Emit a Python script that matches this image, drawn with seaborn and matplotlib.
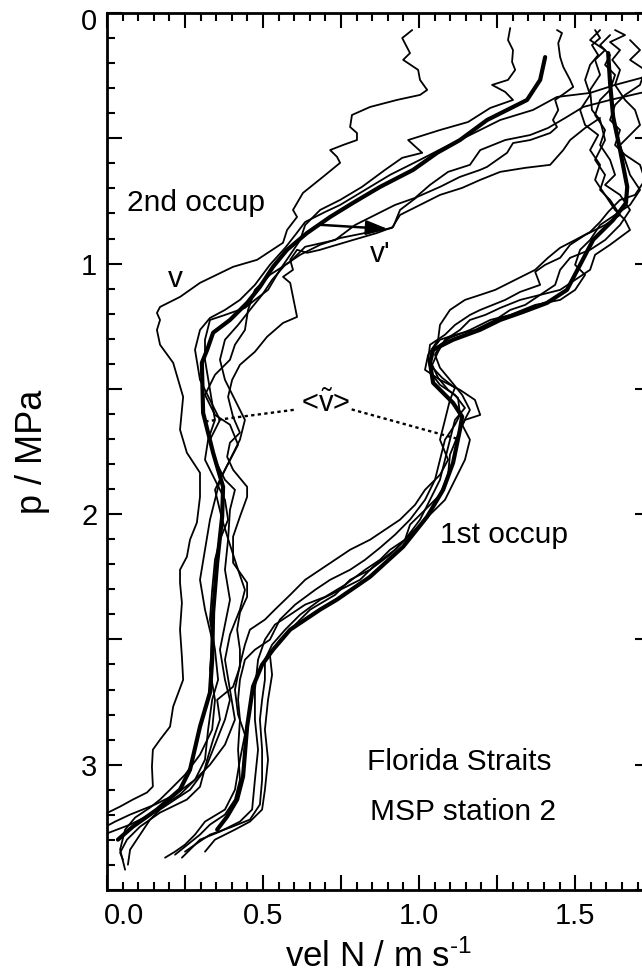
import numpy as np
import pandas as pd
import matplotlib
matplotlib.use("Agg")
import matplotlib.pyplot as plt
import matplotlib.transforms as mtransforms
from matplotlib.ticker import MultipleLocator, FuncFormatter
import seaborn as sns

# ---------------------------------------------------------------------------
# Mean northward velocity profiles (thick lines), v in m/s, p in MPa
# ---------------------------------------------------------------------------
mean2_v = [1.404, 1.388, 1.346, 1.282, 1.218, 1.131, 1.058, 0.981, 0.875, 0.788,
           0.715, 0.641, 0.577, 0.532, 0.490, 0.449, 0.394, 0.340, 0.321, 0.304,
           0.308, 0.340, 0.372, 0.369, 0.353, 0.340, 0.337, 0.330, 0.298, 0.266,
           0.234, 0.160, 0.083, 0.035]
mean2_p = [0.176, 0.267, 0.347, 0.387, 0.427, 0.507, 0.558, 0.626, 0.694, 0.758,
           0.814, 0.878, 0.945, 1.013, 1.093, 1.157, 1.225, 1.276, 1.344, 1.396,
           1.596, 1.755, 1.891, 2.010, 2.194, 2.393, 2.581, 2.712, 2.848, 3.020,
           3.099, 3.179, 3.247, 3.299]

mean1_v = [1.606, 1.612, 1.622, 1.644, 1.667, 1.663, 1.622, 1.558, 1.516, 1.474,
           1.410, 1.333, 1.260, 1.196, 1.109, 1.045, 1.035, 1.045, 1.109, 1.138,
           1.131, 1.109, 1.077, 1.026, 0.949, 0.843, 0.737, 0.683, 0.587, 0.532,
           0.497, 0.468, 0.449, 0.436, 0.417, 0.385, 0.353]
mean1_p = [0.160, 0.279, 0.415, 0.546, 0.694, 0.758, 0.826, 0.905, 1.005, 1.105,
           1.157, 1.193, 1.225, 1.264, 1.304, 1.344, 1.396, 1.476, 1.556, 1.611,
           1.663, 1.795, 1.903, 2.010, 2.130, 2.250, 2.341, 2.381, 2.461, 2.541,
           2.601, 2.688, 2.848, 3.047, 3.139, 3.207, 3.259]

# ---------------------------------------------------------------------------
# Individual casts, 2nd occupation
# ---------------------------------------------------------------------------
occ2_a_v = [0.978, 0.946, 0.971, 0.949, 0.997, 1.003, 1.026, 1.003, 0.929, 0.843,
            0.785, 0.779, 0.801, 0.801, 0.756, 0.715, 0.737, 0.747, 0.692, 0.628,
            0.596, 0.609, 0.577, 0.564, 0.481, 0.404, 0.298, 0.234, 0.170, 0.160,
            0.170, 0.160, 0.170, 0.212, 0.244, 0.234, 0.256, 0.298, 0.298, 0.288,
            0.266, 0.256, 0.234, 0.234, 0.240, 0.234, 0.240, 0.244, 0.212, 0.202,
            0.170, 0.147, 0.144, 0.147, 0.128, 0.083, 0.042, -0.010]
occ2_a_p = [0.068, 0.100, 0.160, 0.187, 0.227, 0.267, 0.307, 0.327, 0.347, 0.375,
            0.407, 0.455, 0.479, 0.507, 0.527, 0.547, 0.574, 0.598, 0.654, 0.718,
            0.786, 0.814, 0.866, 0.917, 0.985, 1.013, 1.077, 1.133, 1.173, 1.197,
            1.225, 1.265, 1.324, 1.396, 1.532, 1.663, 1.755, 1.835, 1.931, 2.034,
            2.102, 2.170, 2.222, 2.274, 2.354, 2.461, 2.569, 2.661, 2.768, 2.848,
            2.900, 2.940, 3.008, 3.087, 3.111, 3.139, 3.167, 3.199]

occ2_b_v = [1.292, 1.285, 1.301, 1.298, 1.308, 1.285, 1.234, 1.276, 1.301, 1.228,
            1.157, 1.067, 0.965, 1.010, 0.946, 0.891, 0.817, 0.747, 0.683, 0.635,
            0.619, 0.587, 0.554, 0.516, 0.474, 0.442, 0.378, 0.330, 0.314, 0.314,
            0.330, 0.346, 0.324, 0.314, 0.346, 0.378, 0.388, 0.362, 0.346, 0.337,
            0.330, 0.346, 0.356, 0.337, 0.324, 0.314, 0.282, 0.218, 0.154, 0.074,
            0.026, -0.010]
occ2_b_p = [0.060, 0.108, 0.148, 0.195, 0.227, 0.267, 0.287, 0.315, 0.347, 0.379,
            0.435, 0.467, 0.507, 0.558, 0.578, 0.626, 0.694, 0.746, 0.786, 0.846,
            0.906, 0.965, 1.025, 1.105, 1.145, 1.177, 1.205, 1.225, 1.304, 1.384,
            1.504, 1.624, 1.703, 1.783, 1.863, 1.943, 2.022, 2.102, 2.182, 2.302,
            2.421, 2.541, 2.661, 2.741, 2.860, 2.980, 3.060, 3.119, 3.159, 3.199,
            3.227, 3.251]

occ2_c_v = [1.442, 1.458, 1.446, 1.452, 1.462, 1.484, 1.494, 1.468, 1.436, 1.446,
            1.429, 1.442, 1.420, 1.356, 1.301, 1.282, 1.250, 1.218, 1.196, 1.131,
            1.067, 0.994, 0.939, 0.917, 0.865, 0.788, 0.715, 0.683, 0.641, 0.609,
            0.587, 0.596, 0.564, 0.587, 0.596, 0.609, 0.564, 0.513, 0.474, 0.426,
            0.401, 0.388, 0.404, 0.426, 0.394, 0.385, 0.404, 0.449, 0.449, 0.426,
            0.404, 0.404, 0.449, 0.449, 0.426, 0.417, 0.426, 0.426, 0.404, 0.353,
            0.362, 0.340, 0.321, 0.298, 0.256, 0.170, 0.106, 0.064, 0.042, 0.051]
occ2_c_p = [0.068, 0.080, 0.120, 0.176, 0.215, 0.267, 0.295, 0.319, 0.347, 0.387,
            0.427, 0.455, 0.479, 0.507, 0.519, 0.558, 0.586, 0.614, 0.626, 0.654,
            0.694, 0.734, 0.786, 0.854, 0.878, 0.906, 0.933, 0.945, 0.957, 0.945,
            0.985, 1.025, 1.053, 1.077, 1.133, 1.213, 1.237, 1.292, 1.352, 1.404,
            1.464, 1.532, 1.612, 1.675, 1.715, 1.771, 1.823, 1.891, 1.931, 2.010,
            2.090, 2.194, 2.274, 2.330, 2.393, 2.461, 2.541, 2.609, 2.689, 2.741,
            2.820, 2.900, 2.980, 3.088, 3.139, 3.191, 3.247, 3.299, 3.351, 3.379]

occ2_d_v = [1.724, 1.628, 1.548, 1.442, 1.365, 1.260, 1.163, 1.083, 1.003, 0.907,
            0.827, 0.747, 0.699, 0.635, 0.603, 0.571, 0.522, 0.474, 0.426, 0.378,
            0.330, 0.298, 0.282, 0.298, 0.330, 0.362, 0.330, 0.346, 0.378, 0.410,
            0.394, 0.388, 0.378, 0.394, 0.378, 0.362, 0.378, 0.394, 0.378, 0.346,
            0.314, 0.266, 0.218, 0.170, 0.138, 0.106, 0.074, 0.067]
occ2_d_p = [0.255, 0.287, 0.319, 0.335, 0.387, 0.427, 0.487, 0.535, 0.586, 0.646,
            0.706, 0.766, 0.794, 0.834, 0.886, 0.937, 1.005, 1.085, 1.145, 1.185,
            1.217, 1.265, 1.344, 1.464, 1.544, 1.624, 1.703, 1.783, 1.863, 1.903,
            1.983, 2.102, 2.222, 2.342, 2.441, 2.541, 2.661, 2.741, 2.820, 2.920,
            3.020, 3.100, 3.139, 3.179, 3.219, 3.279, 3.339, 3.399]

occ2_e_v = [1.724, 1.612, 1.526, 1.468, 1.413, 1.356, 1.276, 1.196, 1.163, 1.093,
            1.035, 0.987, 0.923, 0.859, 0.795, 0.731, 0.635, 0.587, 0.522, 0.474,
            0.452, 0.442, 0.410, 0.394, 0.346, 0.314, 0.346, 0.394, 0.420, 0.378,
            0.346, 0.369, 0.394, 0.420, 0.442, 0.426, 0.394, 0.378, 0.394, 0.410,
            0.378, 0.330, 0.282, 0.234, 0.186, 0.138, 0.074, -0.010]
occ2_e_p = [0.315, 0.347, 0.375, 0.419, 0.459, 0.487, 0.507, 0.547, 0.606, 0.634,
            0.686, 0.738, 0.766, 0.806, 0.846, 0.906, 0.933, 0.993, 1.045, 1.105,
            1.185, 1.265, 1.324, 1.384, 1.444, 1.524, 1.604, 1.643, 1.723, 1.823,
            1.903, 2.022, 2.122, 2.222, 2.302, 2.381, 2.481, 2.581, 2.701, 2.820,
            2.920, 3.000, 3.060, 3.119, 3.159, 3.199, 3.239, 3.279]

occ2_f_v = [1.580, 1.532, 1.484, 1.462, 1.420, 1.340, 1.260, 1.196, 1.138, 1.067,
            1.003, 0.939, 0.913, 0.827, 0.747, 0.683, 0.619, 0.571, 0.529, 0.497,
            0.458, 0.420, 0.378, 0.362, 0.378, 0.410, 0.442, 0.426, 0.394, 0.362,
            0.346, 0.330, 0.314, 0.298, 0.314, 0.337, 0.330, 0.346, 0.337, 0.298,
            0.250, 0.202, 0.170, 0.138, 0.090, 0.058, 0.042, 0.058]
occ2_f_p = [0.419, 0.459, 0.507, 0.547, 0.606, 0.618, 0.634, 0.666, 0.698, 0.726,
            0.766, 0.806, 0.858, 0.878, 0.898, 0.925, 0.965, 1.005, 1.065, 1.125,
            1.185, 1.245, 1.304, 1.384, 1.464, 1.544, 1.624, 1.703, 1.783, 1.863,
            1.943, 2.022, 2.142, 2.262, 2.381, 2.501, 2.621, 2.741, 2.860, 2.960,
            3.040, 3.100, 3.139, 3.171, 3.211, 3.259, 3.339, 3.419]

# ---------------------------------------------------------------------------
# Individual casts, 1st occupation
# ---------------------------------------------------------------------------
occ1_a_v = [1.580, 1.548, 1.596, 1.564, 1.580, 1.548, 1.554, 1.580, 1.596, 1.564,
            1.596, 1.580, 1.612, 1.644, 1.596, 1.532, 1.484, 1.452, 1.404, 1.372,
            1.388, 1.324, 1.276, 1.196, 1.163, 1.115, 1.083, 1.035, 1.029, 1.042,
            1.067, 1.115, 1.147, 1.115, 1.099, 1.083, 1.067, 1.035, 1.003, 0.955,
            0.923, 0.859, 0.811, 0.747, 0.683, 0.619, 0.571, 0.529, 0.506, 0.506,
            0.497, 0.490, 0.497, 0.497, 0.490, 0.458, 0.394, 0.330, 0.282, 0.250]
occ1_a_p = [0.068, 0.108, 0.148, 0.187, 0.247, 0.307, 0.387, 0.427, 0.507, 0.586,
            0.646, 0.706, 0.746, 0.806, 0.846, 0.886, 0.925, 0.977, 1.005, 1.033,
            1.085, 1.113, 1.145, 1.185, 1.205, 1.245, 1.284, 1.324, 1.384, 1.444,
            1.484, 1.524, 1.576, 1.624, 1.703, 1.783, 1.863, 1.943, 2.022, 2.102,
            2.142, 2.202, 2.262, 2.302, 2.342, 2.401, 2.461, 2.521, 2.581, 2.661,
            2.741, 2.820, 2.940, 3.060, 3.159, 3.219, 3.251, 3.279, 3.319, 3.347]

occ1_b_v = [1.628, 1.660, 1.612, 1.644, 1.619, 1.644, 1.628, 1.660, 1.692, 1.708,
            1.676, 1.644, 1.660, 1.676, 1.708, 1.676, 1.628, 1.580, 1.548, 1.516,
            1.500, 1.532, 1.500, 1.452, 1.372, 1.292, 1.228, 1.163, 1.099, 1.067,
            1.051, 1.067, 1.099, 1.138, 1.163, 1.138, 1.163, 1.147, 1.115, 1.083,
            1.035, 0.987, 0.939, 0.907, 0.843, 0.779, 0.731, 0.651, 0.603, 0.554,
            0.522, 0.529, 0.516, 0.506, 0.516, 0.506, 0.497, 0.458, 0.410, 0.346,
            0.314]
occ1_b_p = [0.068, 0.088, 0.116, 0.148, 0.187, 0.227, 0.287, 0.347, 0.387, 0.447,
            0.487, 0.527, 0.586, 0.646, 0.706, 0.766, 0.806, 0.846, 0.906, 0.945,
            1.005, 1.045, 1.105, 1.145, 1.165, 1.205, 1.225, 1.265, 1.296, 1.324,
            1.364, 1.416, 1.464, 1.524, 1.584, 1.643, 1.703, 1.783, 1.863, 1.943,
            2.002, 2.062, 2.122, 2.162, 2.222, 2.262, 2.322, 2.381, 2.441, 2.501,
            2.561, 2.641, 2.741, 2.860, 2.980, 3.100, 3.179, 3.227, 3.259, 3.299,
            3.347]

occ1_c_v = [1.564, 1.580, 1.554, 1.574, 1.548, 1.532, 1.548, 1.516, 1.532, 1.574,
            1.548, 1.580, 1.564, 1.596, 1.628, 1.660, 1.676, 1.612, 1.564, 1.548,
            1.500, 1.452, 1.388, 1.324, 1.260, 1.212, 1.163, 1.131, 1.083, 1.061,
            1.042, 1.061, 1.093, 1.125, 1.131, 1.115, 1.083, 1.067, 1.051, 1.019,
            0.971, 0.923, 0.875, 0.827, 0.779, 0.715, 0.667, 0.603, 0.554, 0.522,
            0.474, 0.442, 0.426, 0.420, 0.426, 0.420, 0.426, 0.410, 0.378, 0.330,
            0.298, 0.266, 0.218]
occ1_c_p = [0.068, 0.100, 0.128, 0.168, 0.207, 0.267, 0.327, 0.387, 0.447, 0.487,
            0.547, 0.606, 0.666, 0.726, 0.786, 0.826, 0.866, 0.925, 0.965, 1.025,
            1.065, 1.105, 1.125, 1.145, 1.177, 1.205, 1.225, 1.265, 1.304, 1.352,
            1.404, 1.456, 1.504, 1.536, 1.604, 1.643, 1.703, 1.783, 1.863, 1.943,
            2.022, 2.082, 2.134, 2.182, 2.222, 2.262, 2.302, 2.361, 2.421, 2.501,
            2.541, 2.581, 2.661, 2.741, 2.820, 2.940, 3.060, 3.139, 3.199, 3.239,
            3.279, 3.311, 3.359]

occ1_d_v = [1.676, 1.708, 1.676, 1.724, 1.708, 1.660, 1.628, 1.612, 1.644, 1.628,
            1.660, 1.708, 1.724, 1.692, 1.644, 1.606, 1.580, 1.548, 1.500, 1.452,
            1.413, 1.372, 1.308, 1.244, 1.196, 1.147, 1.099, 1.067, 1.061, 1.029,
            1.019, 1.067, 1.131, 1.179, 1.196, 1.147, 1.125, 1.099, 1.093, 1.067,
            1.019, 0.971, 0.955, 0.907, 0.875, 0.827, 0.763, 0.699, 0.635, 0.587,
            0.538, 0.506, 0.484, 0.474, 0.474, 0.484, 0.474, 0.465, 0.426, 0.362,
            0.298, 0.266, 0.240]
occ1_d_p = [0.108, 0.148, 0.187, 0.227, 0.287, 0.327, 0.367, 0.427, 0.467, 0.527,
            0.566, 0.606, 0.666, 0.726, 0.746, 0.794, 0.834, 0.874, 0.906, 0.937,
            0.977, 1.025, 1.065, 1.105, 1.125, 1.145, 1.185, 1.245, 1.304, 1.364,
            1.424, 1.464, 1.504, 1.544, 1.604, 1.624, 1.683, 1.763, 1.843, 1.923,
            1.983, 2.042, 2.102, 2.142, 2.182, 2.222, 2.282, 2.330, 2.361, 2.401,
            2.441, 2.501, 2.581, 2.701, 2.820, 2.940, 3.060, 3.179, 3.227, 3.267,
            3.299, 3.339, 3.371]

occ1_e_v = [1.612, 1.580, 1.612, 1.596, 1.628, 1.612, 1.580, 1.564, 1.596, 1.580,
            1.612, 1.628, 1.596, 1.644, 1.676, 1.644, 1.596, 1.548, 1.484, 1.452,
            1.436, 1.388, 1.340, 1.292, 1.244, 1.179, 1.115, 1.067, 1.042, 1.035,
            1.074, 1.115, 1.099, 1.083, 1.067, 1.093, 1.067, 1.019, 0.987, 0.939,
            0.891, 0.843, 0.779, 0.731, 0.683, 0.635, 0.587, 0.538, 0.506, 0.458,
            0.442, 0.426, 0.410, 0.420, 0.442, 0.426, 0.410, 0.378, 0.314, 0.282,
            0.250, 0.218, 0.186]
occ1_e_p = [0.088, 0.128, 0.168, 0.207, 0.247, 0.307, 0.347, 0.407, 0.467, 0.527,
            0.586, 0.646, 0.686, 0.726, 0.786, 0.846, 0.906, 0.945, 0.977, 1.025,
            1.085, 1.125, 1.165, 1.185, 1.225, 1.265, 1.284, 1.304, 1.344, 1.404,
            1.456, 1.496, 1.544, 1.624, 1.703, 1.783, 1.843, 1.903, 1.963, 2.022,
            2.062, 2.102, 2.142, 2.182, 2.222, 2.262, 2.322, 2.381, 2.421, 2.461,
            2.521, 2.601, 2.701, 2.800, 2.880, 2.980, 3.100, 3.179, 3.227, 3.279,
            3.319, 3.347, 3.371]

# Annotation anchors
link_p = [1.63, 1.70]          # pressures where the <v~> connector meets the means
tilde_label = (0.699, 1.592)
arrow_p = 0.845                 # pressure of the v' deviation arrow
arrow_tip = (0.90, 0.862)

# ---------------------------------------------------------------------------
casts = {
    "2a": (occ2_a_v, occ2_a_p), "2b": (occ2_b_v, occ2_b_p),
    "2c": (occ2_c_v, occ2_c_p), "2d": (occ2_d_v, occ2_d_p),
    "2e": (occ2_e_v, occ2_e_p), "2f": (occ2_f_v, occ2_f_p),
    "1a": (occ1_a_v, occ1_a_p), "1b": (occ1_b_v, occ1_b_p),
    "1c": (occ1_c_v, occ1_c_p), "1d": (occ1_d_v, occ1_d_p),
    "1e": (occ1_e_v, occ1_e_p),
}
thin = pd.concat(
    [pd.DataFrame({"v": v, "p": p, "cast": k}) for k, (v, p) in casts.items()],
    ignore_index=True)
means = pd.concat(
    [pd.DataFrame({"v": mean2_v, "p": mean2_p, "cast": "mean2"}),
     pd.DataFrame({"v": mean1_v, "p": mean1_p, "cast": "mean1"})],
    ignore_index=True)

sns.set_theme(style="ticks")
plt.rcParams["font.family"] = ["Liberation Sans", "DejaVu Sans"]
plt.rcParams["mathtext.fontset"] = "custom"
plt.rcParams["mathtext.rm"] = "Liberation Sans"
plt.rcParams["mathtext.it"] = "Liberation Sans"
plt.rcParams["mathtext.default"] = "regular"

W, H = 642, 980
fig = plt.figure(figsize=(W / 100, H / 100), dpi=100)
fig.patch.set_facecolor("white")
ax = fig.add_axes([107 / W, 90 / H, 543 / W, 877 / H])
ax.set_facecolor("white")

sns.lineplot(data=thin, x="v", y="p", units="cast", estimator=None, sort=False,
             color="black", linewidth=1.3, ax=ax)
sns.lineplot(data=means, x="v", y="p", units="cast", estimator=None, sort=False,
             color="black", linewidth=3.0, ax=ax)

ax.set_xlim(0, 1.74)
ax.set_ylim(3.5, 0)

# Ticks: inward on all four sides
ax.xaxis.set_major_locator(MultipleLocator(0.25))
ax.xaxis.set_minor_locator(MultipleLocator(0.05))
ax.yaxis.set_major_locator(MultipleLocator(0.5))
ax.yaxis.set_minor_locator(MultipleLocator(0.1))
ax.xaxis.set_major_formatter(FuncFormatter(
    lambda x, _: f"{x:.1f}" if abs(x / 0.5 - round(x / 0.5)) < 1e-6 else ""))
ax.yaxis.set_major_formatter(FuncFormatter(
    lambda y, _: f"{int(round(y))}" if abs(y - round(y)) < 1e-6 else ""))
ax.tick_params(which="both", direction="in", top=True, right=True,
               color="black", width=1.5)
ax.tick_params(which="major", length=11)
ax.tick_params(which="minor", length=5.5)
ax.tick_params(axis="x", which="major", labelsize=21, pad=8.5, labelcolor="black")
ax.tick_params(axis="y", which="major", labelsize=21, pad=7, labelcolor="black")
for s in ax.spines.values():
    s.set_linewidth(2.0)
    s.set_color("black")

ax.set_xlabel("vel N / m s$^{\\text{-}1}$", fontsize=25, color="black")
ax.set_ylabel("p / MPa", fontsize=26, color="black")
ax.xaxis.set_label_coords(0.5, -0.056)
ax.yaxis.set_label_coords(-0.105, 0.5)

# Text annotations
txt = dict(fontsize=21.5, color="black", va="baseline")
ax.text(0.064, 0.790, "2nd occup", ha="left", **txt)
ax.text(0.195, 1.093, "v", ha="left", **txt)
ax.text(0.843, 0.993, "v'", ha="left", **txt)
ax.text(1.067, 2.114, "1st occup", ha="left", **txt)
ax.text(0.833, 3.020, "Florida Straits", ha="left", **txt)
ax.text(0.843, 3.219, "MSP station 2", ha="left", **txt)
ax.text(tilde_label[0], tilde_label[1], "<$\\tilde{\\mathrm{v}}$>", ha="center",
        fontsize=21, color="black", va="baseline")

# Dotted connectors from the <v~> label to both mean profiles
v_left = np.interp(link_p[0], mean2_p, mean2_v)
v_right = np.interp(link_p[1], mean1_p[15:], mean1_v[15:])
ax.plot([v_left, tilde_label[0] - 0.09], [link_p[0], tilde_label[1] - 0.01],
        color="black", lw=1.7, ls=(0, (1.4, 1.4)))
ax.plot([tilde_label[0] + 0.085, v_right], [tilde_label[1] - 0.01, link_p[1]],
        color="black", lw=1.7, ls=(0, (1.4, 1.4)))

# Deviation arrow v' from the mean profile
v_start = np.interp(arrow_p, mean2_p, mean2_v)
ax.annotate("", xy=arrow_tip, xytext=(v_start, arrow_p),
            arrowprops=dict(arrowstyle="-|>,head_length=0.65,head_width=0.22",
                            color="black", lw=1.8, mutation_scale=20,
                            shrinkA=0, shrinkB=0))

# Nudge the edge tick labels inward
fig.canvas.draw()
for lab in ax.get_xticklabels():
    if lab.get_text() == "0.0":
        lab.set_transform(lab.get_transform() +
                          mtransforms.ScaledTranslation(0.17, 0, fig.dpi_scale_trans))
for lab in ax.get_yticklabels():
    if lab.get_text() == "0":
        lab.set_transform(lab.get_transform() +
                          mtransforms.ScaledTranslation(0, -0.06, fig.dpi_scale_trans))

fig.savefig("out.png", dpi=100, facecolor="white")
